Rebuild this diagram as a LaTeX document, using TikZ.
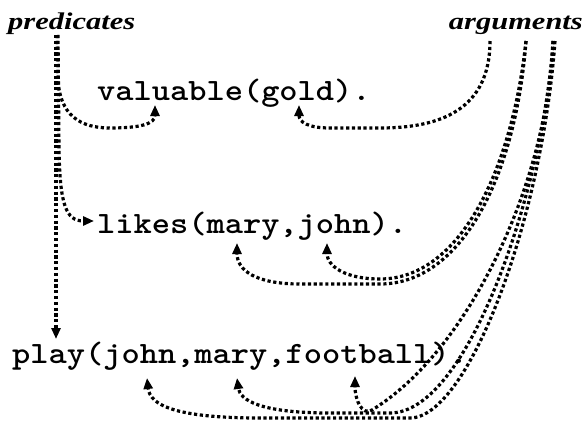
\documentclass[tikz,border=0pt]{standalone}
\usepackage{fontspec}
\usepackage{graphicx}
\usetikzlibrary{arrows.meta}
\newfontfamily\labfont{Liberation Serif}
\newfontfamily\codefont{lmmonolt10-bold.otf}
\tikzset{
  lab/.style={font=\labfont\bfseries\itshape\fontsize{24}{28}\selectfont, inner sep=0pt},
  code/.style={font=\codefont\fontsize{31}{36}\selectfont, inner sep=0pt},
  link/.style={line width=3.2pt, dash pattern=on 3.2pt off 2.6pt, -{Triangle[length=11pt,width=9pt]}},
}
\begin{document}
\begin{tikzpicture}[x=1pt,y=-1pt]
\useasboundingbox (0,0) rectangle (587,421);
\node[lab, anchor=base west] (pred) at (8,29) {\scalebox{1.27}[1]{predicates}};
\node[lab, anchor=base east] (args) at (583,29) {\scalebox{1.27}[1]{arguments}};
\node[code, anchor=base west] (val) at (97,100) {\scalebox{1.12}[1]{valuable(gold).}};
\node[code, anchor=base west] (lik) at (97,233) {\scalebox{1.12}[1]{likes(mary,john).}};
\node[code, anchor=base west] (ply) at (12,363) {\scalebox{1.12}[1]{play(john,mary,football).}};
% start points
\coordinate (pA) at (56,35);
\coordinate (pB) at (58,35);
\coordinate (pC) at (57,35);
\coordinate (a1) at (490,41);
\coordinate (a2) at (526,41);
\coordinate (a3) at (553,41);
\coordinate (a3b) at (555,41);
% targets
\coordinate (tVal) at (155,105);
\coordinate (tLik) at (94,221);
\coordinate (tPly) at (56,339);
\coordinate (tGold) at (299,105);
\coordinate (tLm) at (237,243);
\coordinate (tLj) at (327,243);
\coordinate (tPj) at (147,378);
\coordinate (tPm) at (237,378);
\coordinate (tPf) at (355,376);
% predicates
\draw[link] (pA) -- (tPly);
\draw[link] (pB) -- (59,150) .. controls (60,205) and (66,221) .. (tLik);
\draw[link] (pC) -- (58,80) .. controls (60,115) and (80,128) .. (110,128) .. controls (140,128) and (155,124) .. (tVal);
% arguments
\draw[link] (a1) .. controls (490,110) and (440,128) .. (380,128) -- (330,128) .. controls (308,128) and (299,122) .. (tGold);
\draw[link] (a2) .. controls (512,170) and (460,279) .. (380,279) .. controls (345,279) and (327,266) .. (tLj);
\draw[link] (a2) .. controls (516,175) and (462,284) .. (380,284) -- (300,284) .. controls (255,284) and (237,270) .. (tLm);
\draw[link] (a3) .. controls (548,180) and (470,350) .. (372,410) .. controls (362,416) and (355,400) .. (tPf);
\draw[link] (a3) .. controls (545,180) and (470,413) .. (390,413) -- (330,413) .. controls (260,413) and (240,400) .. (tPm);
\draw[link] (a3b) .. controls (542,220) and (468,418) .. (410,418) -- (260,418) .. controls (175,418) and (150,405) .. (tPj);
\end{tikzpicture}
\end{document}
